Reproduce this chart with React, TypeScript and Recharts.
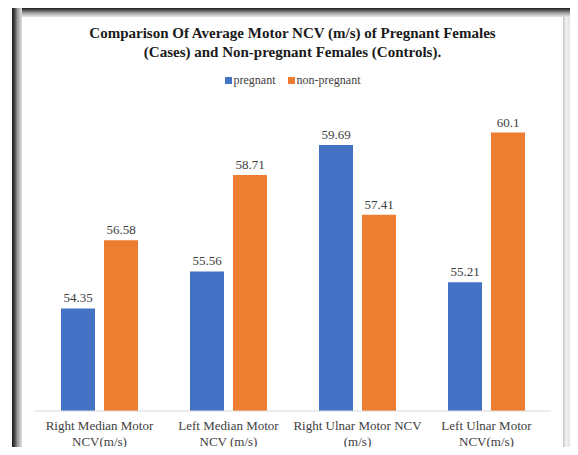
import { BarChart, Bar, XAxis, YAxis, LabelList } from "recharts";

const categories = [
  ["Right Median Motor", "NCV(m/s)"],
  ["Left Median Motor", "NCV (m/s)"],
  ["Right Ulnar Motor NCV", "(m/s)"],
  ["Left Ulnar Motor", "NCV(m/s)"],
];
const pregnant = [54.35, 55.56, 59.69, 55.21];
const nonPregnant = [56.58, 58.71, 57.41, 60.1];
const valueDomain = [51, 61];

const BLUE = "#4472C4";
const ORANGE = "#ED7D31";
const FONT = "Liberation Serif, Times New Roman, serif";

const data = categories.map((c, i) => ({
  name: c.join("\n"),
  pregnant: pregnant[i],
  nonPregnant: nonPregnant[i],
}));

// two-line category label, anchored just below the axis line
function CategoryTick(props: any) {
  const { x, payload } = props;
  const lines = String(payload.value).split("\n");
  const top = 411;
  return (
    <text x={x} y={top} textAnchor="middle" fill="#404040" fontSize={13} fontFamily={FONT}>
      {lines.map((l, i) => (
        <tspan key={i} x={x} dy={i === 0 ? 19 : 16}>{l}</tspan>
      ))}
    </text>
  );
}

export default function App() {
  return (
    <div style={{ position: "relative", width: 578, height: 455, margin: -8, background: "#fff", overflow: "hidden" }}>
      {/* screenshot frame */}
      <div style={{ position: "absolute", left: 12, top: 8, right: 0, height: 9, background: "linear-gradient(to bottom, #1a1a1a, #555 25%, #a8a8a8 60%, #e6e6e6)" }} />
      <div style={{ position: "absolute", left: 12, top: 8, width: 10, bottom: 0, background: "linear-gradient(to right, #1a1a1a, #444 25%, #9a9a9a 55%, #e0e0e0)" }} />
      <div style={{ position: "absolute", left: 563, top: 17, width: 15, bottom: 0, background: "linear-gradient(to right, #c4c4c4, #f2f2f2 20%, #dcdcdc 60%, #c0c0c0)" }} />

      <div style={{ position: "absolute", left: 22, top: 24, width: 541, textAlign: "center", fontFamily: FONT, fontWeight: "bold", fontSize: 15, lineHeight: "19px", color: "#1a1a1a" }}>
        Comparison Of Average Motor NCV (m/s) of Pregnant Females
        <br />
        (Cases) and Non-pregnant Females (Controls).
      </div>

      <div style={{ position: "absolute", left: 22, top: 73, width: 541, display: "flex", justifyContent: "center", gap: 12, fontFamily: FONT, fontSize: 12, color: "#404040" }}>
        <span style={{ display: "flex", alignItems: "center", gap: 2 }}>
          <span style={{ width: 7, height: 7, background: BLUE, display: "inline-block" }} />pregnant
        </span>
        <span style={{ display: "flex", alignItems: "center", gap: 2 }}>
          <span style={{ width: 7, height: 7, background: ORANGE, display: "inline-block" }} />non-pregnant
        </span>
      </div>

      <div style={{ position: "absolute", left: 0, top: 0 }}>
        <BarChart
          width={578}
          height={455}
          data={data}
          margin={{ top: 105, right: 27, bottom: 0, left: 35 }}
          barGap={9}
          barSize={34}
        >
          <XAxis
            dataKey="name"
            axisLine={{ stroke: "#d9d9d9" }}
            tickLine={false}
            height={44}
            interval={0}
            tick={<CategoryTick />}
          />
          <YAxis hide domain={valueDomain} allowDataOverflow />
          <Bar dataKey="pregnant" fill={BLUE} isAnimationActive={false}>
            <LabelList dataKey="pregnant" position="top" offset={6} fill="#404040" fontSize={13} fontFamily={FONT} />
          </Bar>
          <Bar dataKey="nonPregnant" fill={ORANGE} isAnimationActive={false}>
            <LabelList dataKey="nonPregnant" position="top" offset={6} fill="#404040" fontSize={13} fontFamily={FONT} />
          </Bar>
        </BarChart>
      </div>
    </div>
  );
}
